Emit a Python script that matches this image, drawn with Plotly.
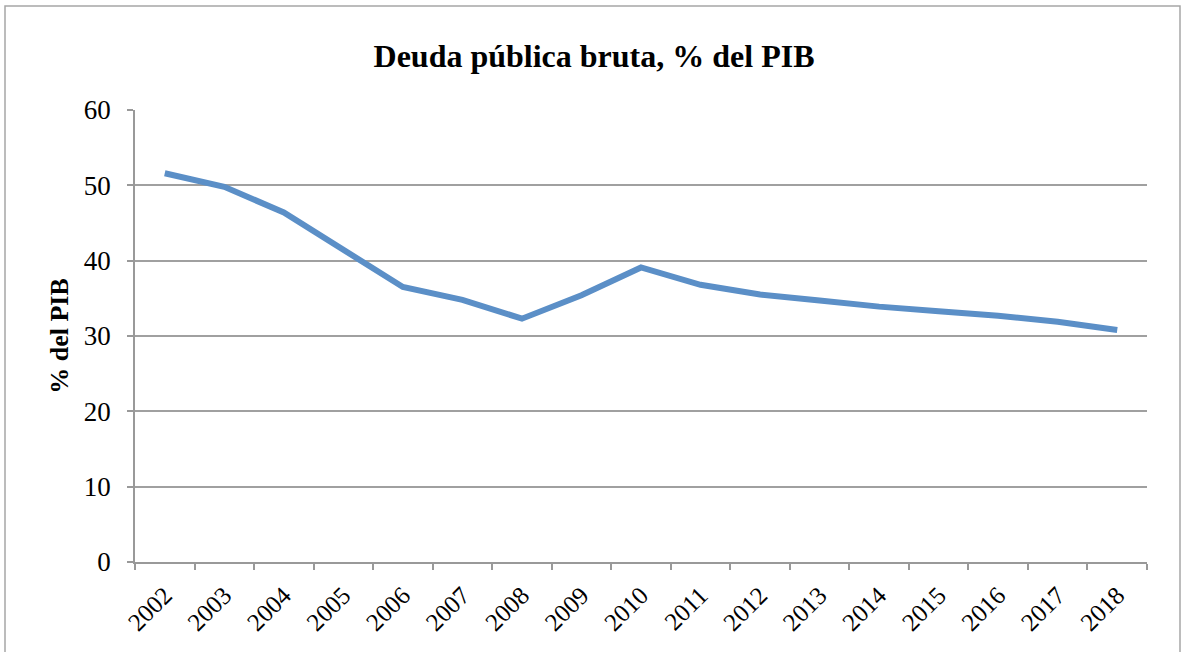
import plotly.graph_objects as go

years = ["2002", "2003", "2004", "2005", "2006", "2007", "2008", "2009", "2010",
         "2011", "2012", "2013", "2014", "2015", "2016", "2017", "2018"]
debt = [51.6, 49.8, 46.4, 41.4, 36.5, 34.8, 32.3, 35.4, 39.1,
        36.8, 35.5, 34.7, 33.9, 33.3, 32.7, 31.9, 30.8]
y_ticks = [0, 10, 20, 30, 40, 50, 60]

W, H = 1181, 652
L, R, T, B = 135, 34, 110, 90
pw, ph = W - L - R, H - T - B

fig = go.Figure()
fig.add_trace(go.Scatter(x=years, y=debt, mode="lines",
                         line=dict(color="#5b8fc7", width=6),
                         showlegend=False, hoverinfo="x+y"))

def px_x(p):
    return (p - L) / pw

def px_y(p):
    return (H - B - p) / ph

serif = "Liberation Serif, Times New Roman, serif"
fig.update_layout(
    width=W, height=H,
    margin=dict(l=L, r=R, t=T, b=B),
    paper_bgcolor="white", plot_bgcolor="white",
    font=dict(family=serif, color="black"),
    title=dict(text="<b>Deuda pública bruta, % del PIB</b>",
               font=dict(size=32, family=serif),
               x=594 / W, xanchor="center", xref="container", y=1 - 56 / H, yanchor="middle"),
    xaxis=dict(type="category", range=[-0.5, 16.5], tickson="boundaries",
               ticks="outside", ticklen=6, tickcolor="#999999", tickwidth=1.5,
               tickangle=-45, tickfont=dict(size=25), ticklabelstandoff=7,
               showline=True, linecolor="#999999", linewidth=1.5,
               showgrid=False, zeroline=False),
    yaxis=dict(range=[0, 60], tickvals=y_ticks, ticks="outside", ticklen=6,
               tickcolor="#999999", tickwidth=1.5, tickfont=dict(size=27),
               ticklabelstandoff=11,
               showline=True, linecolor="#999999", linewidth=1.5,
               showgrid=True, gridcolor="#a0a0a0", gridwidth=1.5, zeroline=False,
               title=dict(text="<b>% del PIB</b>", font=dict(size=26), standoff=8)),
    shapes=[dict(type="rect", xref="paper", yref="paper",
                 x0=px_x(5), x1=px_x(1180), y0=px_y(660), y1=px_y(6),
                 line=dict(color="#a6a6a6", width=1.5), fillcolor="rgba(0,0,0,0)",
                 layer="below")],
)

fig.write_html("out.html", config={"displayModeBar": False},
               post_script="document.body.style.margin='0';")
